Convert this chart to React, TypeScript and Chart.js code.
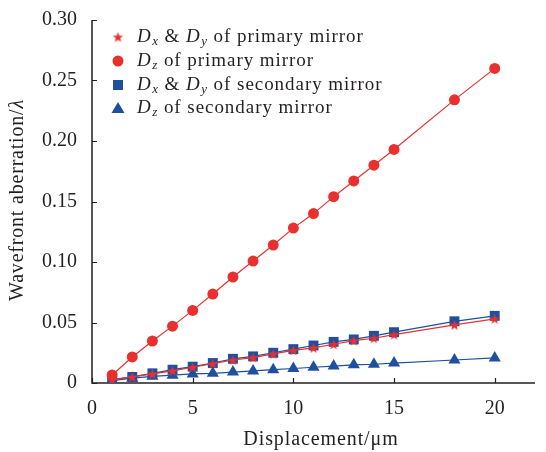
import React, { useEffect, useRef } from 'react';
import { Chart, registerables } from 'chart.js';

Chart.register(...registerables);

const displacement = [1, 2, 3, 4, 5, 6, 7, 8, 9, 10, 11, 12, 13, 14, 15, 18, 20];
const primaryDxDy = [0.0026, 0.005, 0.0075, 0.010, 0.013, 0.016, 0.019, 0.021, 0.024, 0.027, 0.029, 0.032, 0.035, 0.037, 0.040, 0.048, 0.053];
const primaryDz = [0.0066, 0.0215, 0.0347, 0.047, 0.060, 0.0735, 0.0876, 0.1008, 0.114, 0.128, 0.140, 0.154, 0.167, 0.180, 0.193, 0.234, 0.260];
const secondaryDxDy = [0.0028, 0.005, 0.008, 0.011, 0.0135, 0.0165, 0.020, 0.022, 0.025, 0.028, 0.031, 0.034, 0.036, 0.039, 0.042, 0.051, 0.0555];
const secondaryDz = [0.002, 0.004, 0.0055, 0.0065, 0.0075, 0.008, 0.009, 0.010, 0.011, 0.012, 0.013, 0.014, 0.015, 0.0155, 0.0165, 0.019, 0.0207];
const xTicks = [0, 5, 10, 15, 20];
const yTicks = [0, 0.05, 0.1, 0.15, 0.2, 0.25, 0.3];

const RED = '#e8312f';
const BLUE = '#1f4f9f';
const FONT = '"Liberation Serif", "Times New Roman", serif';
const TEXT = '#231f20';

type Part = { t: string; italic?: boolean; sub?: boolean };
const legendRows: { parts: Part[] }[] = [
  { parts: [{ t: 'D', italic: true }, { t: 'x', italic: true, sub: true }, { t: ' & ' }, { t: 'D', italic: true }, { t: 'y', italic: true, sub: true }, { t: ' of primary mirror' }] },
  { parts: [{ t: 'D', italic: true }, { t: 'z', italic: true, sub: true }, { t: ' of primary mirror' }] },
  { parts: [{ t: 'D', italic: true }, { t: 'x', italic: true, sub: true }, { t: ' & ' }, { t: 'D', italic: true }, { t: 'y', italic: true, sub: true }, { t: ' of secondary mirror' }] },
  { parts: [{ t: 'D', italic: true }, { t: 'z', italic: true, sub: true }, { t: ' of secondary mirror' }] },
];

function makeStar(color: string, outer: number): HTMLCanvasElement {
  const size = Math.ceil(outer * 2 + 2);
  const c = document.createElement('canvas');
  c.width = size;
  c.height = size;
  const g = c.getContext('2d')!;
  const cx = size / 2, cy = size / 2 + 0.5;
  const inner = outer * 0.42;
  g.beginPath();
  for (let i = 0; i < 10; i++) {
    const r = i % 2 === 0 ? outer : inner;
    const a = -Math.PI / 2 + (i * Math.PI) / 5;
    const px = cx + r * Math.cos(a), py = cy + r * Math.sin(a);
    if (i === 0) g.moveTo(px, py); else g.lineTo(px, py);
  }
  g.closePath();
  g.fillStyle = color;
  g.fill();
  return c;
}

function fontStr(size: number, italic?: boolean) {
  return `${italic ? 'italic ' : ''}${size}px ${FONT}`;
}

function drawRich(ctx: CanvasRenderingContext2D, x: number, y: number, parts: Part[]) {
  let cx = x;
  ctx.textBaseline = 'middle';
  ctx.textAlign = 'left';
  for (const p of parts) {
    const size = p.sub ? 13 : 19;
    ctx.font = fontStr(size, p.italic);
    ctx.fillText(p.t, cx, y + (p.sub ? 5 : 0));
    cx += ctx.measureText(p.t).width + (p.italic && !p.sub ? 0.5 : 0);
  }
}

export default function App() {
  const ref = useRef<HTMLCanvasElement | null>(null);

  useEffect(() => {
    const canvas = ref.current;
    if (!canvas) return;
    const star = makeStar(RED, 5.5);

    const decor = {
      id: 'decor',
      beforeDatasetsDraw(chart: any) {
        const ctx = chart.ctx as CanvasRenderingContext2D;
        const { left, right, top, bottom } = chart.chartArea;
        const xs = chart.scales.x, ys = chart.scales.y;
        ctx.save();
        ctx.strokeStyle = TEXT;
        ctx.lineWidth = 1.5;
        ctx.beginPath();
        ctx.moveTo(left, top);
        ctx.lineTo(left, bottom);
        ctx.lineTo(right, bottom);
        ctx.stroke();
        ctx.lineWidth = 1.2;
        ctx.beginPath();
        for (const v of yTicks) {
          const py = Math.round(ys.getPixelForValue(v)) + 0.5;
          ctx.moveTo(left, py);
          ctx.lineTo(left + 5, py);
        }
        for (const v of xTicks) {
          const px = Math.round(xs.getPixelForValue(v)) + 0.5;
          ctx.moveTo(px, bottom);
          ctx.lineTo(px, bottom - 5);
        }
        ctx.stroke();
        ctx.restore();
      },
      afterDraw(chart: any) {
        const ctx = chart.ctx as CanvasRenderingContext2D;
        ctx.save();
        ctx.fillStyle = TEXT;
        // x title
        (ctx as any).letterSpacing = '0.9px';
        ctx.font = fontStr(20);
        ctx.textAlign = 'center';
        ctx.textBaseline = 'middle';
        ctx.fillText('Displacement/\u03bcm', 321, 440);
        // y title
        ctx.translate(18, 200);
        ctx.rotate(-Math.PI / 2);
        (ctx as any).letterSpacing = '0.8px';
        ctx.font = fontStr(20);
        const a = 'Wavefront aberration/';
        const wa = ctx.measureText(a).width;
        ctx.font = fontStr(20, true);
        const wb = ctx.measureText('\u03bb').width;
        const sx = -(wa + wb) / 2;
        ctx.textAlign = 'left';
        ctx.font = fontStr(20);
        ctx.fillText(a, sx, 0);
        ctx.font = fontStr(20, true);
        ctx.fillText('\u03bb', sx + wa, 0);
        (ctx as any).letterSpacing = '0px';
        ctx.restore();

        // legend
        ctx.save();
        const mx = 118, tx = 137;
        const rows = [37, 61, 85, 108];
        ctx.drawImage(star, mx - star.width / 2, rows[0] - star.height / 2);
        ctx.fillStyle = RED;
        ctx.beginPath();
        ctx.arc(mx, rows[1], 5.5, 0, Math.PI * 2);
        ctx.fill();
        ctx.fillStyle = BLUE;
        ctx.fillRect(mx - 5, rows[2] - 5, 10, 10);
        ctx.beginPath();
        ctx.moveTo(mx, rows[3] - 6);
        ctx.lineTo(mx + 6.5, rows[3] + 5);
        ctx.lineTo(mx - 6.5, rows[3] + 5);
        ctx.closePath();
        ctx.fill();
        ctx.fillStyle = TEXT;
        (ctx as any).letterSpacing = '0.95px';
        legendRows.forEach((r, i) => drawRich(ctx, tx, rows[i], r.parts));
        (ctx as any).letterSpacing = '0px';
        ctx.restore();
      },
    };

    const mk = (data: number[]) => displacement.map((x, i) => ({ x, y: data[i] }));

    const chart = new Chart(canvas, {
      type: 'line',
      data: {
        datasets: [
          { label: 'Dx & Dy of primary mirror', data: mk(primaryDxDy), borderColor: RED, backgroundColor: RED, borderWidth: 1.2, pointStyle: star as any, pointRadius: 5.5, pointBorderWidth: 0, tension: 0 },
          { label: 'Dz of primary mirror', data: mk(primaryDz), borderColor: RED, backgroundColor: RED, borderWidth: 1.2, pointStyle: 'circle', pointRadius: 5.5, pointBorderWidth: 0, tension: 0 },
          { label: 'Dx & Dy of secondary mirror', data: mk(secondaryDxDy), borderColor: BLUE, backgroundColor: BLUE, borderWidth: 1.2, pointStyle: 'rect', pointRadius: 7, pointBorderWidth: 0, tension: 0 },
          { label: 'Dz of secondary mirror', data: mk(secondaryDz), borderColor: BLUE, backgroundColor: BLUE, borderWidth: 1.2, pointStyle: 'triangle', pointRadius: 7, pointBorderWidth: 0, tension: 0 },
        ],
      },
      options: {
        responsive: false,
        animation: false,
        devicePixelRatio: 1,
        layout: { padding: { left: 0, top: 20, right: 11, bottom: 0 } },
        plugins: { legend: { display: false }, tooltip: { enabled: false } },
        scales: {
          x: {
            type: 'linear',
            min: 0,
            max: 22,
            grid: { display: false, drawTicks: false },
            border: { display: false },
            afterBuildTicks: (s: any) => { s.ticks = xTicks.map((v) => ({ value: v })); },
            afterFit: (s: any) => { s.height = 69; s.paddingLeft = 0; s.paddingRight = 0; s.paddingTop = 0; s.paddingBottom = 0; },
            ticks: { font: { family: FONT, size: 20 }, color: TEXT, padding: 14, maxRotation: 0 },
          },
          y: {
            type: 'linear',
            min: 0,
            max: 0.3,
            grid: { display: false, drawTicks: false },
            border: { display: false },
            afterBuildTicks: (s: any) => { s.ticks = yTicks.map((v) => ({ value: v })); },
            afterFit: (s: any) => { s.width = 92; s.paddingLeft = 0; s.paddingRight = 0; s.paddingTop = 0; s.paddingBottom = 0; },
            ticks: {
              font: { family: FONT, size: 20 },
              color: TEXT,
              padding: 15,
              callback: (v: any) => (Number(v) === 0 ? '0' : Number(v).toFixed(2)),
            },
          },
        },
      },
      plugins: [decor],
    });
    return () => chart.destroy();
  }, []);

  return (
    <div style={{ position: 'absolute', left: 0, top: 0, width: 546, height: 452, background: '#fff' }}>
      <canvas ref={ref} width={546} height={452} style={{ width: 546, height: 452, display: 'block' }} />
    </div>
  );
}
